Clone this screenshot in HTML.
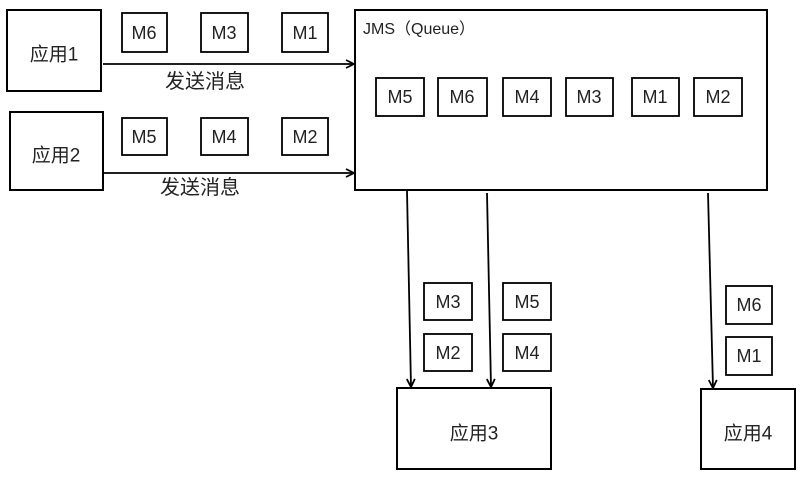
<!DOCTYPE html>
<html><head><meta charset="utf-8"><style>
body{margin:0;background:#fff;}
svg text{font-family:"Liberation Sans","Noto Sans CJK SC",sans-serif;fill:#222;}
</style></head><body>
<svg width="800" height="481" viewBox="0 0 800 481" xmlns="http://www.w3.org/2000/svg">
<defs><marker id="a" markerWidth="10" markerHeight="10" refX="9" refY="5" orient="auto" markerUnits="userSpaceOnUse"><path d="M1,1 L9,5 L1,9" fill="none" stroke="#000" stroke-width="1.8"/></marker></defs>
<g fill="none" stroke="#000" stroke-width="2">
<rect x="7" y="10" width="94" height="81"/>
<rect x="10" y="112" width="93" height="78"/>
<rect x="355" y="10" width="412" height="180"/>
<rect x="397" y="388" width="154" height="81"/>
<rect x="701" y="389" width="94" height="80"/>
<g stroke-width="1.8">
<rect x="122" y="13" width="45" height="39"/><rect x="201" y="13" width="47" height="39"/><rect x="282" y="13" width="46" height="39"/>
<rect x="122" y="118" width="45" height="37"/><rect x="201" y="118" width="47" height="37"/><rect x="282" y="118" width="46" height="37"/>
<rect x="376" y="78" width="48" height="38"/><rect x="438" y="78" width="49" height="38"/><rect x="503" y="78" width="48" height="38"/><rect x="566" y="78" width="47" height="38"/><rect x="632" y="78" width="47" height="38"/><rect x="694" y="78" width="48" height="38"/>
<rect x="424" y="283" width="48" height="37"/><rect x="503" y="283" width="48" height="37"/>
<rect x="424" y="334" width="48" height="37"/><rect x="503" y="334" width="48" height="37"/>
<rect x="726" y="286" width="46" height="38"/><rect x="726" y="337" width="46" height="38"/>
</g>
<g stroke-width="1.8" marker-end="url(#a)">
<line x1="103" y1="64" x2="354" y2="64"/>
<line x1="104" y1="173" x2="354" y2="173"/>
<line x1="407" y1="191" x2="411" y2="387"/>
<line x1="487" y1="193" x2="491" y2="387"/>
<line x1="708" y1="193" x2="713" y2="388"/>
</g></g>
<g font-size="18" text-anchor="middle" dominant-baseline="central">
<text x="54" y="55" font-size="19">应用1</text><text x="56" y="156" font-size="19">应用2</text>
<text x="474" y="434" font-size="19">应用3</text><text x="748" y="434" font-size="19">应用4</text>
<text x="205" y="82" font-size="20">发送消息</text><text x="200" y="188" font-size="20">发送消息</text>
<text x="144" y="33">M6</text><text x="224" y="33">M3</text><text x="305" y="33">M1</text>
<text x="144" y="137">M5</text><text x="224" y="137">M4</text><text x="305" y="137">M2</text>
<text x="400" y="97">M5</text><text x="462" y="97">M6</text><text x="527" y="97">M4</text><text x="589" y="97">M3</text><text x="655" y="97">M1</text><text x="718" y="97">M2</text>
<text x="448" y="302">M3</text><text x="527" y="302">M5</text><text x="448" y="353">M2</text><text x="527" y="353">M4</text>
<text x="749" y="305">M6</text><text x="749" y="356">M1</text>
</g>
<text x="363" y="34" font-size="16">JMS（Queue）</text>
</svg>
</body></html>
